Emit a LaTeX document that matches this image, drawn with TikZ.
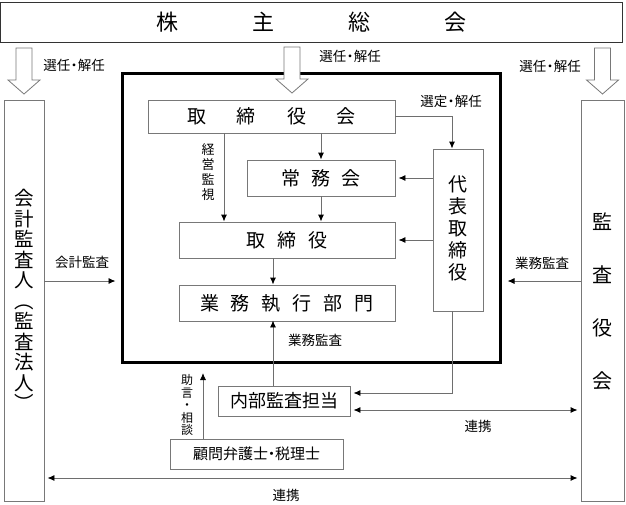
\documentclass[tikz,border=0pt]{standalone}
\usepackage{fontspec}
\setmainfont{Noto Sans CJK JP}
\usetikzlibrary{arrows.meta}
\definecolor{boxgray}{RGB}{120,120,120}
\definecolor{linegray}{RGB}{110,110,110}
\begin{document}
\begin{tikzpicture}[x=1pt,y=-1pt,
  bx/.style={draw=boxgray, line width=0.9pt, inner sep=0pt},
  con/.style={draw=linegray, line width=0.9pt, -{Latex[length=7pt,width=6pt,black]}},
  dcon/.style={draw=linegray, line width=0.9pt, {Latex[length=7pt,width=6pt,black]}-{Latex[length=7pt,width=6pt,black]}},
  lbl/.style={font=\fontsize{13.5}{13.5}\selectfont, inner sep=0pt},
  hollow/.pic={\draw[draw=boxgray, line width=0.8pt, fill=white] (-8,0) -- (8,0) -- (8,32) -- (16,32) -- (0,46) -- (-16,32) -- (-8,32) -- cycle;}
]
\useasboundingbox (0,0) rectangle (626,504);

% main boxes
\node[bx, draw=black!80, minimum width=622pt, minimum height=40pt, font=\fontsize{22}{22}\selectfont] (sh) at (311,22) {株\hspace{74pt}主\hspace{74pt}総\hspace{74pt}会};
\node[draw=black, line width=3pt, minimum width=378pt, minimum height=289pt, inner sep=0pt] (thk) at (311,217.5) {};
\node[bx, minimum width=40pt, minimum height=401pt] (lf) at (24,300.5) {};
\node[align=center, font=\fontsize{19.5}{20.5}\selectfont, inner sep=0pt] (lft) at (24,300) {会\\計\\監\\査\\人\\︵\\監\\査\\法\\人\\︶};
\node[bx, minimum width=43pt, minimum height=401pt] (rt) at (602.5,300.5) {};
\node[align=center, font=\fontsize{20}{53}\selectfont, inner sep=0pt] (rtt) at (602.5,301) {監\\査\\役\\会};

\node[bx, minimum width=247pt, minimum height=33pt, font=\fontsize{19}{19}\selectfont] (tb) at (271.5,116.5) {取\hspace{31pt}締\hspace{31pt}役\hspace{31pt}会};
\node[bx, minimum width=148pt, minimum height=36pt, font=\fontsize{19}{19}\selectfont] (jm) at (321,178) {常\hspace{11pt}務\hspace{11pt}会};
\node[bx, minimum width=216pt, minimum height=36pt, font=\fontsize{19}{19}\selectfont] (tr) at (287,240) {取\hspace{12pt}締\hspace{12pt}役};
\node[bx, minimum width=216pt, minimum height=36pt, font=\fontsize{19}{19}\selectfont] (gy) at (287,303) {業\hspace{12pt}務\hspace{12pt}執\hspace{12pt}行\hspace{12pt}部\hspace{12pt}門};
\node[bx, minimum width=50pt, minimum height=162pt] (dh) at (458,230) {};
\node[align=center, font=\fontsize{19}{22}\selectfont, inner sep=0pt] (dht) at (458,228) {代\\表\\取\\締\\役};
\node[bx, minimum width=132pt, minimum height=30pt, font=\fontsize{18}{18}\selectfont] (nb) at (284,401) {内部監査担当};
\node[bx, minimum width=173pt, minimum height=30pt, font=\fontsize{15}{15}\selectfont] (km) at (256.5,454) {顧問弁護士\kern-4pt・\kern-4pt税理士};

% hollow arrows
\pic at (24,48) {hollow};
\pic at (292,47) {hollow};
\pic at (602.5,48) {hollow};
\node[lbl] (l1) at (74,65) {選任\kern-3pt・\kern-3pt解任};
\node[lbl] (l2) at (350,56) {選任\kern-3pt・\kern-3pt解任};
\node[lbl] (l3) at (550,66) {選任\kern-3pt・\kern-3pt解任};
\node[lbl] (l4) at (451,101) {選定\kern-3pt・\kern-3pt解任};

% helper coordinates
\coordinate (xk) at (224,0);
\coordinate (xd) at (452,0);
\coordinate (xg) at (273,0);
\coordinate (xa) at (203,0);
\coordinate (ya) at (0,393);
\coordinate (yb) at (0,410);
\coordinate (ym) at (0,281);
\coordinate (yc) at (0,478);
\coordinate (ca) at (203,373);

% connectors
\draw[con] (tb.south -| jm.north) -- (jm.north);
\draw[con] (jm.south) -- (tr.north -| jm.south);
\draw[con] (tb.south -| xk) -- (tr.north -| xk);
\draw[con] (tb.east) -| (dh.north -| xd);
\draw[con] (dh.west |- jm.east) -- ([xshift=3pt]jm.east);
\draw[con] (dh.west |- tr.east) -- ([xshift=3pt]tr.east);
\draw[con] (tr.south -| xg) -- (gy.north -| xg);
\draw[con] (nb.north -| xg) -- ([yshift=1pt]gy.south -| xg);
\draw[con] (dh.south -| xd) |- ([xshift=3pt]nb.east |- ya);
\draw[dcon] ([xshift=3pt]nb.east |- yb) -- ([xshift=-3pt]rt.west |- yb);
\draw[con] (km.north -| xa) -- (ca);
\draw[con] (lf.east |- ym) -- ([xshift=-5pt]thk.west |- ym);
\draw[con] (rt.west |- ym) -- ([xshift=6pt]thk.east |- ym);
\draw[dcon] ([xshift=3pt]lf.east |- yc) -- ([xshift=-3pt]rt.west |- yc);

% labels
\node[lbl] (m1) at (82,262) {会計監査};
\node[lbl] (m2) at (542,263) {業務監査};
\node[lbl] (m3) at (315,340) {業務監査};
\node[lbl] (m4) at (478,426) {連携};
\node[lbl] (m5) at (286,495) {連携};
\node[align=center, font=\fontsize{13}{15}\selectfont, inner sep=0pt] (m6) at (208,172) {経\\営\\監\\視};
\node[align=center, font=\fontsize{12}{12.5}\selectfont, inner sep=0pt] (m7) at (187,405) {助\\言\\・\\相\\談};
\end{tikzpicture}
\end{document}
